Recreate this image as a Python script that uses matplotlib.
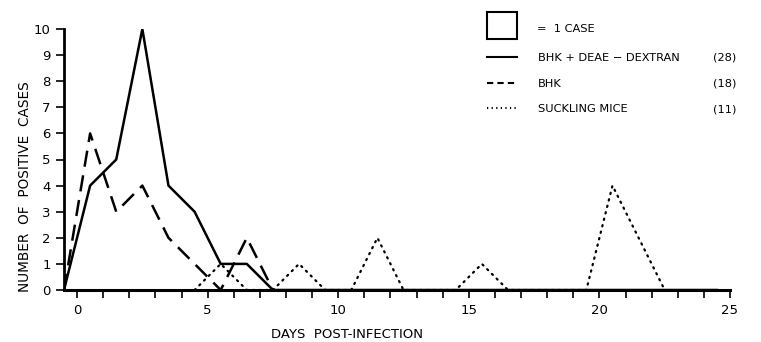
import matplotlib
matplotlib.use("Agg")
import matplotlib.pyplot as plt
from matplotlib.lines import Line2D
from matplotlib.patches import Rectangle

plt.rcParams['font.family'] = ['DejaVu Sans']

days_a = [-0.5, 0.5, 1.5, 2.5, 3.5, 4.5, 5.5, 6.5, 7.5, 24.5]
bhk_deae = [0, 4, 5, 10, 4, 3, 1, 1, 0, 0]

days_b = [-0.5, 0.5, 1.5, 2.5, 3.5, 4.5, 5.5, 6.5, 7.5]
bhk = [0, 6, 3, 4, 2, 1, 0, 2, 0]

days_c = [4.5, 5.5, 6.5, 7.5, 8.5, 9.5, 10.5, 11.5, 12.5, 14.5, 15.5, 16.5, 19.5, 20.5, 21.5, 22.5]
mice = [0, 1, 0, 0, 1, 0, 0, 2, 0, 0, 1, 0, 0, 4, 2, 0]

legend_labels = ["BHK + DEAE \u2212 DEXTRAN", "BHK", "SUCKLING MICE"]
legend_counts = ["(28)", "(18)", "(11)"]

W, H = 761, 342
fig = plt.figure(figsize=(W / 100, H / 100), dpi=100)
ax = fig.add_axes([64 / W, 1 - 290 / H, (730 - 64) / W, (290 - 29) / H])

ax.plot(days_c, mice, color='black', lw=1.6, linestyle=(0, (0.6, 2.4)), dash_capstyle='round', zorder=2)
ax.plot(days_b, bhk, color='black', lw=1.8, linestyle=(0, (6.5, 3.5)), zorder=3)
ax.plot(days_a, bhk_deae, color='black', lw=1.8, zorder=4)

ax.set_xlim(-0.5, 25)
ax.set_ylim(0, 10)
for s in ['top', 'right']:
    ax.spines[s].set_visible(False)
ax.spines['left'].set_linewidth(2)
ax.spines['bottom'].set_linewidth(2.2)
ax.spines['bottom'].set_zorder(5)

ax.set_xticks(range(0, 26, 5))
ax.set_xticks(range(0, 26), minor=True)
ax.set_yticks(range(0, 11))
ax.tick_params(axis='both', which='both', direction='out', length=6, width=1.2, labelsize=9.5, colors='black')
ax.tick_params(axis='x', pad=4)

def fx(px):
    return px / W

def fy(py):
    return 1 - py / H

fig.text(fx(347), fy(334), "DAYS  POST-INFECTION", fontsize=9.5, va='center', ha='center')
fig.text(fx(25), fy(187), "NUMBER  OF  POSITIVE  CASES", fontsize=9.8, va='center', ha='center', rotation=90)

# Legend drawn manually
fig.add_artist(Rectangle((fx(487), fy(39)), 30 / W, 27 / H, fill=False, lw=1.5, ec='black'))
fig.text(fx(537), fy(28), "=  1 CASE", fontsize=8.2, va='center_baseline', ha='left')
styles = ['-', (0, (3, 2)), (0, (0.6, 1.6))]
ys = [57, 83, 108]
for st, yy, lab, cnt in zip(styles, ys, legend_labels, legend_counts):
    fig.add_artist(Line2D([fx(487), fx(517)], [fy(yy), fy(yy)], color='black', lw=1.5, linestyle=st))
    fig.text(fx(538), fy(yy), lab, fontsize=8.2, va='center_baseline', ha='left')
    fig.text(fx(736), fy(yy), cnt, fontsize=8.2, va='center_baseline', ha='right')

fig.savefig("out.png", dpi=100)
